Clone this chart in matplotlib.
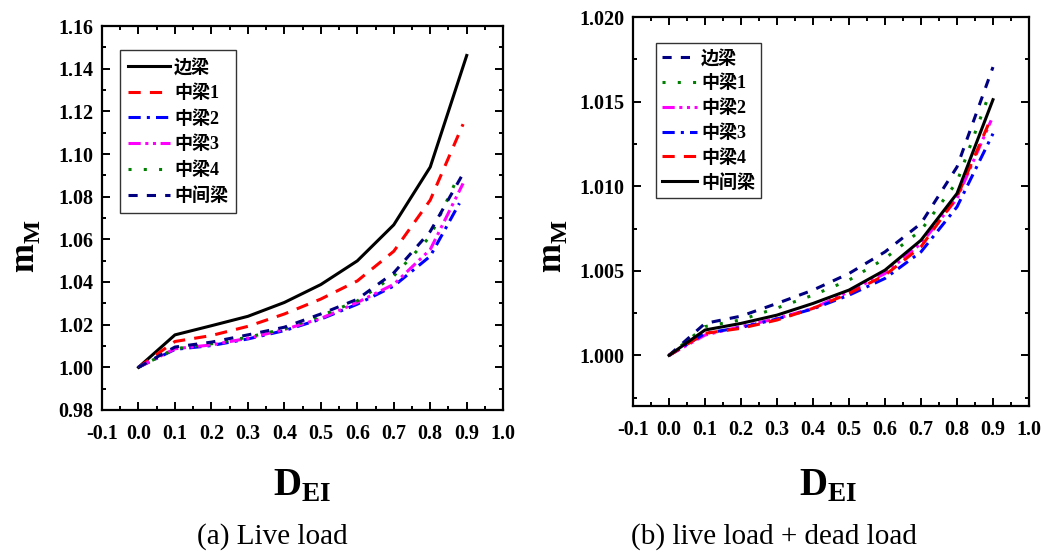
import numpy as np
import matplotlib
matplotlib.use('Agg')
import matplotlib.pyplot as plt
from matplotlib.ticker import MultipleLocator

plt.rcParams['font.family'] = ['Liberation Serif', 'Noto Sans CJK SC']
plt.rcParams['mathtext.fontset'] = 'custom'
plt.rcParams['mathtext.rm'] = 'Liberation Serif:bold'

# (a) live load
x_a = [0.0, 0.1, 0.2, 0.3, 0.4, 0.5, 0.6, 0.7, 0.8]
a_names = ['边梁', '中梁1', '中梁2', '中梁3', '中梁4', '中间梁']
a_xend = [0.9, 0.89, 0.88, 0.89, 0.87, 0.89]
a_vals = [
    [1.000, 1.0152, 1.0195, 1.0239, 1.0304, 1.0388, 1.0499, 1.0668, 1.0939, 1.1462],
    [1.000, 1.0121, 1.0149, 1.0192, 1.0250, 1.0320, 1.0405, 1.0544, 1.0784, 1.1140],
    [1.000, 1.0084, 1.0102, 1.0133, 1.0172, 1.0226, 1.0296, 1.0381, 1.0521, 1.0769],
    [1.000, 1.0087, 1.0105, 1.0136, 1.0177, 1.0229, 1.0304, 1.0389, 1.0552, 1.0862],
    [1.000, 1.0087, 1.0110, 1.0141, 1.0180, 1.0242, 1.0311, 1.0428, 1.0614, 1.0870],
    [1.000, 1.0095, 1.0118, 1.0152, 1.0188, 1.0250, 1.0319, 1.0443, 1.0637, 1.0908],
]

# (b) live load + dead load
x_b = [0.0, 0.1, 0.2, 0.3, 0.4, 0.5, 0.6, 0.7, 0.8]
b_names = ['边梁', '中梁1', '中梁2', '中梁3', '中梁4', '中间梁']
b_xend = [0.9, 0.89, 0.895, 0.9, 0.89, 0.9]
b_vals = [
    [1.0000, 1.00189, 1.00232, 1.00307, 1.00386, 1.00484, 1.00612, 1.00780, 1.01114, 1.01705],
    [1.0000, 1.00170, 1.00210, 1.00280, 1.00356, 1.00445, 1.00573, 1.00740, 1.01026, 1.01547],
    [1.0000, 1.00120, 1.00170, 1.00218, 1.00278, 1.00376, 1.00484, 1.00661, 1.00927, 1.01390],
    [1.0000, 1.00130, 1.00165, 1.00215, 1.00275, 1.00356, 1.00455, 1.00612, 1.00878, 1.01311],
    [1.0000, 1.00130, 1.00160, 1.00209, 1.00278, 1.00366, 1.00474, 1.00642, 1.00937, 1.01380],
    [1.0000, 1.00150, 1.00189, 1.00238, 1.00307, 1.00386, 1.00504, 1.00681, 1.00957, 1.01512],
]

x_ticks = [-0.1, 0.0, 0.1, 0.2, 0.3, 0.4, 0.5, 0.6, 0.7, 0.8, 0.9, 1.0]
a_yticks = [0.98, 1.00, 1.02, 1.04, 1.06, 1.08, 1.10, 1.12, 1.14, 1.16]
b_yticks = [1.000, 1.005, 1.010, 1.015, 1.020]

a_styles = [
    dict(color='black', ls='-'),
    dict(color='red', ls=(0, (4, 3))),
    dict(color='blue', ls=(0, (4, 2, 1, 2))),
    dict(color='magenta', ls=(0, (4, 1.5, 1, 1.5, 1, 1.5))),
    dict(color='green', ls=(0, (1, 4))),
    dict(color='navy', ls=(0, (3, 3))),
]
b_styles = [
    dict(color='navy', ls=(0, (3, 3))),
    dict(color='green', ls=(0, (1, 4))),
    dict(color='magenta', ls=(0, (4, 1.5, 1, 1.5, 1, 1.5))),
    dict(color='blue', ls=(0, (4, 2, 1, 2))),
    dict(color='red', ls=(0, (4, 3))),
    dict(color='black', ls='-'),
]

fig = plt.figure(figsize=(10.42, 5.54), dpi=100)
ax1 = fig.add_axes([0.0979, 0.260, 0.385, 0.693])
ax2 = fig.add_axes([0.6075, 0.267, 0.380, 0.702])


def style_axes(ax):
    for s in ax.spines.values():
        s.set_linewidth(1.6)
    ax.xaxis.set_minor_locator(MultipleLocator(0.05))
    ax.tick_params(which='both', direction='in', top=True, right=True, width=1.4)
    ax.tick_params(which='major', length=6)
    ax.tick_params(which='minor', length=3)
    ax.tick_params(axis='x', pad=10)
    ax.tick_params(axis='y', pad=6)
    for lab in ax.get_xticklabels() + ax.get_yticklabels():
        lab.set_fontweight('bold')
        lab.set_fontsize(14.5)


for name, vals, xe, st in zip(a_names, a_vals, a_xend, a_styles):
    ax1.plot(x_a + [xe], vals, lw=2.2, label=name, **st)
ax1.set_xlim(-0.1, 1.0)
ax1.set_ylim(0.98, 1.16)
ax1.set_xticks(x_ticks)
ax1.set_xticklabels(['%.1f' % v for v in x_ticks])
ax1.set_yticks(a_yticks)
ax1.set_yticklabels(['%.2f' % v for v in a_yticks])
ax1.yaxis.set_minor_locator(MultipleLocator(0.01))
style_axes(ax1)
leg1 = ax1.legend(loc='upper left', bbox_to_anchor=(0.045, 0.9375), borderaxespad=0,
                  fancybox=False, edgecolor='black', handlelength=2.3, handletextpad=0.25,
                  labelspacing=0.45, borderpad=0.45, prop={'weight': 'bold', 'size': 13})
leg1.get_frame().set_linewidth(1.0)

for name, vals, xe, st in zip(b_names, b_vals, b_xend, b_styles):
    ax2.plot(x_b + [xe], vals, lw=2.2, label=name, **st)
ax2.set_xlim(-0.1, 1.0)
ax2.set_ylim(0.997, 1.020)
ax2.set_xticks(x_ticks)
ax2.set_xticklabels(['%.1f' % v for v in x_ticks])
ax2.set_yticks(b_yticks)
ax2.set_yticklabels(['%.3f' % v for v in b_yticks])
ax2.yaxis.set_minor_locator(MultipleLocator(0.0025))
style_axes(ax2)
leg2 = ax2.legend(loc='upper left', bbox_to_anchor=(0.058, 0.933), borderaxespad=0,
                  fancybox=False, edgecolor='black', handlelength=1.9, handletextpad=0.25,
                  labelspacing=0.4, borderpad=0.35, prop={'weight': 'bold', 'size': 13})
leg2.get_frame().set_linewidth(1.0)

# axis labels and captions
fig.text(0.024, 0.555, r'm$_\mathregular{M}$', rotation=90, fontsize=25,
         fontweight='bold', ha='center', va='center')
fig.text(0.530, 0.555, r'm$_\mathregular{M}$', rotation=90, fontsize=25,
         fontweight='bold', ha='center', va='center')
fig.text(0.290, 0.123, r'D$_\mathregular{EI}$', fontsize=28, fontweight='bold',
         ha='center', va='center')
fig.text(0.795, 0.123, r'D$_\mathregular{EI}$', fontsize=28, fontweight='bold',
         ha='center', va='center')
fig.text(0.261, 0.031, '(a) Live load', fontsize=21, ha='center', va='center')
fig.text(0.743, 0.031, '(b) live load + dead load', fontsize=21, ha='center', va='center')

fig.savefig('out.png', dpi=100)
